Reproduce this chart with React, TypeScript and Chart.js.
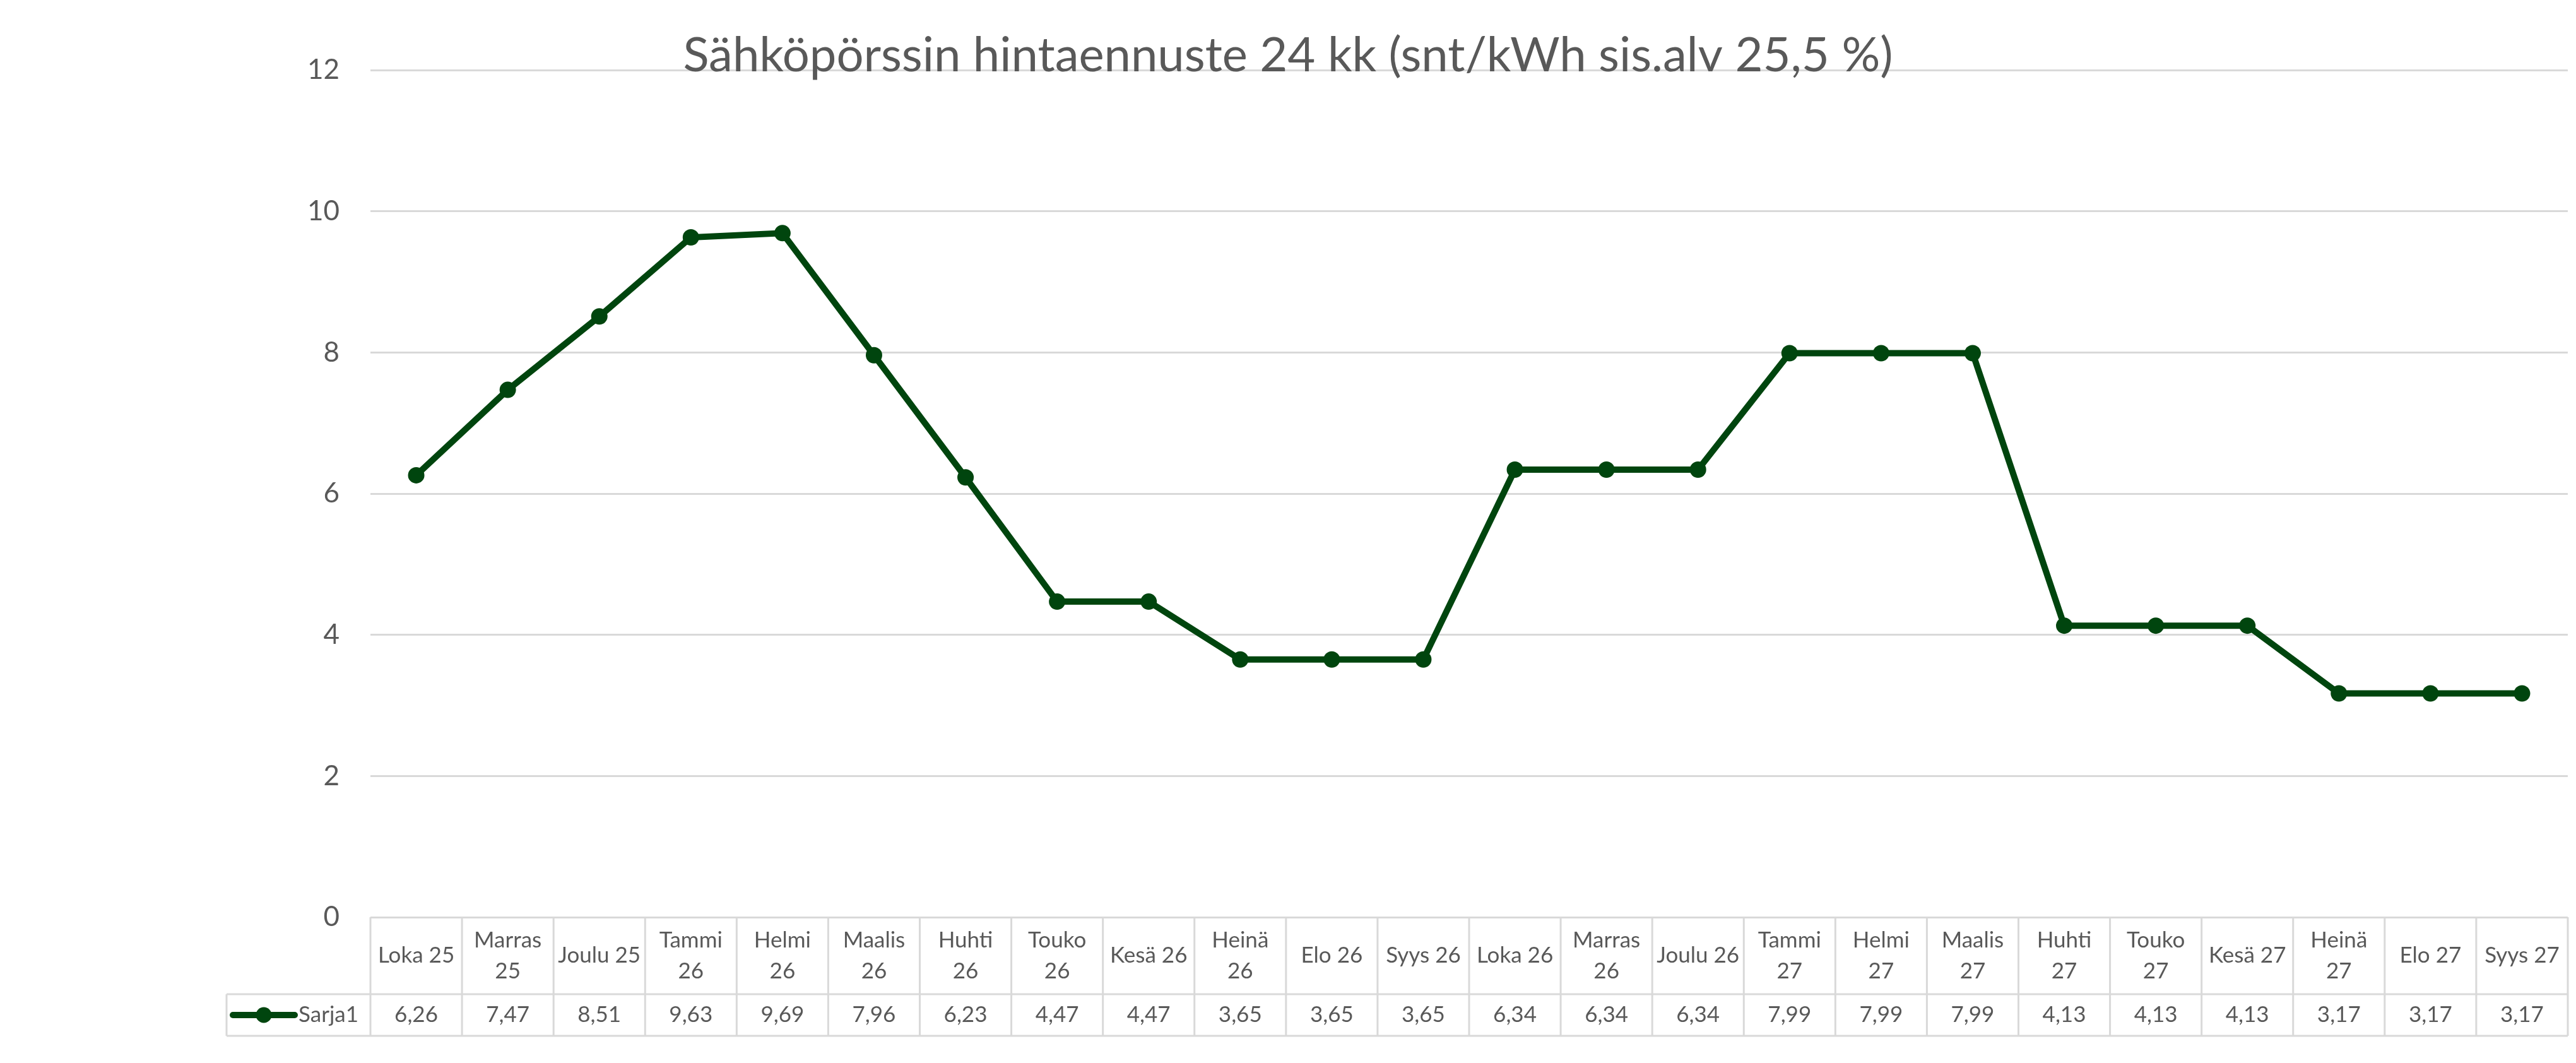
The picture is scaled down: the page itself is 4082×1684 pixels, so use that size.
import React, { useEffect, useRef } from "react";
import { Chart, registerables } from "chart.js";

Chart.register(...registerables);

const TITLE = "Sähköpörssin hintaennuste 24 kk (snt/kWh sis.alv 25,5 %)";
const SERIES_NAME = "Sarja1";
const CATEGORIES: (string | string[])[] = [
  "Loka 25", ["Marras", "25"], "Joulu 25", ["Tammi", "26"], ["Helmi", "26"], ["Maalis", "26"],
  ["Huhti", "26"], ["Touko", "26"], "Kesä 26", ["Heinä", "26"], "Elo 26", "Syys 26",
  "Loka 26", ["Marras", "26"], "Joulu 26", ["Tammi", "27"], ["Helmi", "27"], ["Maalis", "27"],
  ["Huhti", "27"], ["Touko", "27"], "Kesä 27", ["Heinä", "27"], "Elo 27", "Syys 27",
];
const VALUES = [
  6.26, 7.47, 8.51, 9.63, 9.69, 7.96, 6.23, 4.47, 4.47, 3.65, 3.65, 3.65,
  6.34, 6.34, 6.34, 7.99, 7.99, 7.99, 4.13, 4.13, 4.13, 3.17, 3.17, 3.17,
];
const Y_MIN = 0;
const Y_MAX = 12;
const Y_STEP = 2;

const W = 4082;
const H = 1684;
const GREEN = "#00450e";
const TEXT = "#595959";
const GRID = "#d9d9d9";
const FONT = "Lato, 'Open Sans', sans-serif";

const fmt = (v: number) => v.toFixed(2).replace(".", ",");

const tablePlugin = {
  id: "dataTable",
  afterDraw(chart: any) {
    const ctx = chart.ctx as CanvasRenderingContext2D;
    const area = chart.chartArea;
    const xs = chart.scales.x;
    const n = CATEGORIES.length;
    const colW = (area.right - area.left) / n;
    const headTop = area.bottom;
    const headBot = 1575;
    const rowBot = 1641;
    const legLeft = 359;

    ctx.save();
    // borders
    ctx.strokeStyle = GRID;
    ctx.lineWidth = 3;
    ctx.beginPath();
    ctx.moveTo(legLeft, headBot);
    ctx.lineTo(area.right, headBot);
    ctx.moveTo(legLeft, rowBot);
    ctx.lineTo(area.right, rowBot);
    ctx.moveTo(legLeft, headBot);
    ctx.lineTo(legLeft, rowBot);
    for (let i = 0; i <= n; i++) {
      const x = i < n ? xs.getPixelForValue(i) - colW / 2 : xs.getPixelForValue(n - 1) + colW / 2;
      ctx.moveTo(x, headTop);
      ctx.lineTo(x, rowBot);
    }
    ctx.stroke();

    // header labels
    ctx.fillStyle = TEXT;
    ctx.font = `35px ${FONT}`;
    ctx.textAlign = "center";
    ctx.textBaseline = "middle";
    const headMid = (headTop + headBot) / 2;
    const lh = 49;
    CATEGORIES.forEach((lab, i) => {
      const x = xs.getPixelForValue(i);
      const lines = Array.isArray(lab) ? lab : [lab];
      const y0 = headMid - ((lines.length - 1) * lh) / 2;
      lines.forEach((ln, k) => ctx.fillText(ln, x, y0 + k * lh));
    });

    // values
    const rowMid = (headBot + rowBot) / 2;
    VALUES.forEach((v, i) => {
      ctx.fillText(fmt(v), xs.getPixelForValue(i), rowMid);
    });

    // legend key
    ctx.strokeStyle = GREEN;
    ctx.lineWidth = 10;
    ctx.lineCap = "round";
    ctx.beginPath();
    ctx.moveTo(369, rowMid);
    ctx.lineTo(467, rowMid);
    ctx.stroke();
    ctx.fillStyle = GREEN;
    ctx.beginPath();
    ctx.arc(418, rowMid, 12.5, 0, Math.PI * 2);
    ctx.fill();
    ctx.fillStyle = TEXT;
    ctx.textAlign = "left";
    ctx.fillText(SERIES_NAME, 473, rowMid);

    // title
    ctx.font = `76px ${FONT}`;
    ctx.textAlign = "center";
    ctx.textBaseline = "alphabetic";
    ctx.fillText(TITLE, chart.width / 2, 113);
    ctx.restore();
  },
};

export default function App() {
  const ref = useRef<HTMLCanvasElement>(null);
  useEffect(() => {
    if (!ref.current) return;
    const chart = new Chart(ref.current, {
      type: "line",
      data: {
        labels: CATEGORIES as any,
        datasets: [
          {
            label: SERIES_NAME,
            data: VALUES,
            borderColor: GREEN,
            backgroundColor: GREEN,
            borderWidth: 10,
            pointRadius: 13,
            pointBackgroundColor: GREEN,
            pointBorderWidth: 0,
            tension: 0,
          },
        ],
      },
      options: {
        responsive: false,
        animation: false,
        devicePixelRatio: 1,
        layout: { padding: { left: 0, right: 12, top: 111, bottom: H - 1461 } },
        plugins: {
          legend: { display: false },
          title: { display: false },
          tooltip: { enabled: false },
        },
        scales: {
          x: {
            type: "category",
            offset: true,
            grid: { display: false },
            border: { display: false },
            ticks: { display: false },
          },
          y: {
            min: Y_MIN,
            max: Y_MAX,
            ticks: {
              stepSize: Y_STEP,
              padding: 49,
              color: TEXT,
              font: { family: FONT, size: 44 },
            },
            grid: { color: GRID, lineWidth: 3, drawTicks: false },
            border: { display: false },
            afterFit: (s: any) => {
              s.width = 587;
            },
          },
        },
      },
      plugins: [tablePlugin],
    });
    let alive = true;
    (document as any).fonts?.ready?.then(() => {
      if (alive) chart.update();
    });
    return () => {
      alive = false;
      chart.destroy();
    };
  }, []);
  return (
    <div style={{ position: "absolute", left: 0, top: 0, width: W, height: H, background: "#fff" }}>
      <canvas ref={ref} width={W} height={H} style={{ width: W, height: H, display: "block" }} />
    </div>
  );
}
